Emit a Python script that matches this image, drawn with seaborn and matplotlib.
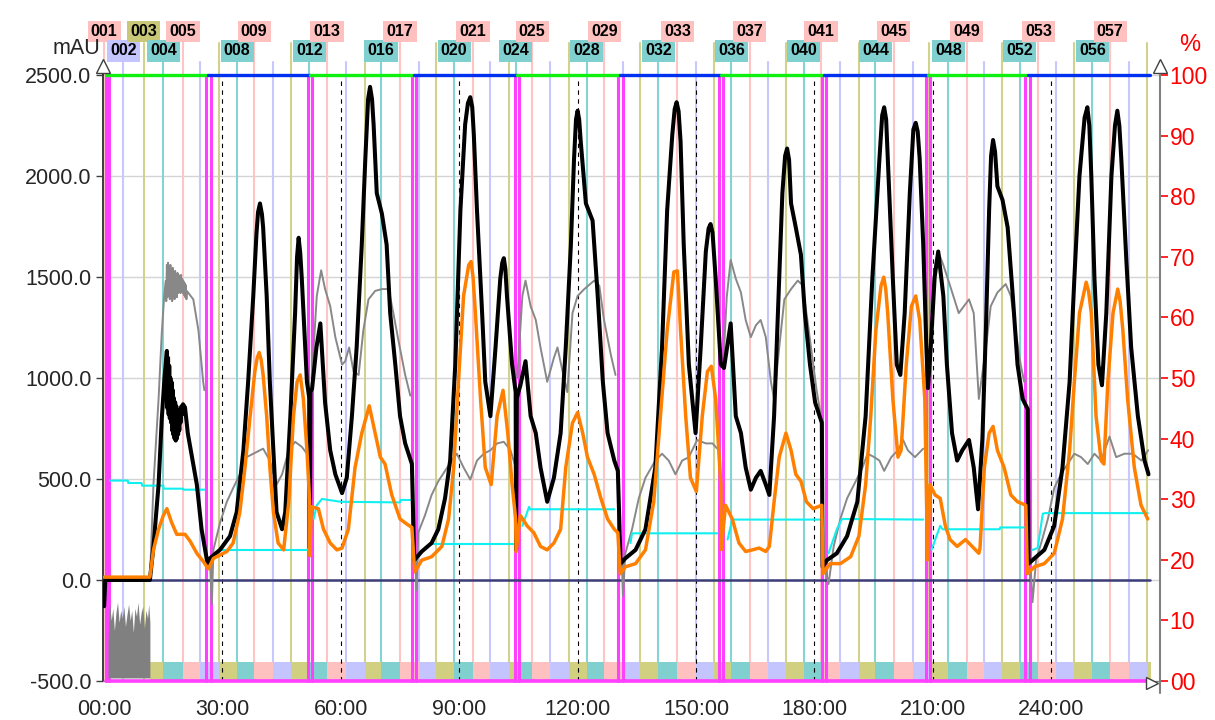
import numpy as np
import pandas as pd
import seaborn as sns
import matplotlib.pyplot as plt
import matplotlib.transforms as mtransforms

# fraction start times (min), fraction 001..059
frac_start = [0.0, 4.9, 10.0, 15.0, 20.0, 24.3, 29.0, 33.7, 38.0, 42.8, 47.4, 52.0, 56.5, 61.3,
              66.0, 70.2, 75.0, 79.8, 84.2, 88.7, 93.5, 97.7, 102.5, 104.3, 108.5, 113.1, 117.9,
              122.3, 126.8, 131.6, 135.9, 140.5, 145.3, 149.9, 154.5, 159.0, 163.6, 168.2, 172.9,
              177.3, 181.7, 186.4, 191.2, 195.5, 200.1, 204.9, 209.0, 214.0, 218.6, 223.1, 227.6,
              232.1, 236.8, 241.2, 245.8, 250.5, 255.0, 259.7, 264.3]
frac_end = 265.3
band_start = 11.7

# injection marks (pairs of magenta lines)
inject_marks = [(0.4, 1.3), (25.8, 27.0), (51.7, 52.6), (78.1, 79.0), (104.1, 105.1),
                (130.3, 131.4), (155.8, 156.9), (181.9, 183.0), (208.2, 209.4), (233.5, 234.7)]
# top 100% line, alternating green / blue between these times
top_breaks = [0.5, 26.3, 52.1, 78.6, 104.6, 130.8, 156.4, 182.4, 208.8, 234.1, 265.2]

black = [(0.0, -130), (0.3, 0), (11.6, 0), (12.5, 166), (13.8, 472), (14.6, 795), (15.3, 1000),
         (15.9, 1134), (16.05, 850), (16.2, 1100), (16.35, 820), (16.5, 1060), (16.65, 800),
         (16.8, 1000), (16.95, 780), (17.1, 980), (17.25, 740), (17.4, 940), (17.55, 720),
         (17.7, 900), (17.85, 700), (18.0, 880), (18.15, 690), (18.3, 860), (18.45, 700),
         (18.6, 840), (18.75, 720), (18.9, 830), (19.05, 740), (19.2, 840), (19.4, 780),
         (19.6, 860), (19.8, 820), (20.0, 870), (20.5, 854), (21.2, 727),
         (23.5, 472), (24.7, 251), (26.2, 81), (26.8, 107), (29.4, 150), (31.9, 217), (33.6, 336),
         (35.3, 642), (36.5, 981), (37.8, 1406), (38.6, 1711), (39.0, 1820), (39.5, 1864),
         (40.0, 1810), (40.3, 1745), (41.2, 1406), (42.0, 981), (42.9, 642), (43.7, 336),
         (45.1, 251), (45.9, 336), (47.2, 811), (48.4, 1321), (48.9, 1600), (49.3, 1694),
         (49.7, 1620), (50.1, 1491), (51.4, 981), (52.0, 900), (52.15, 160),
         (52.3, 930), (52.7, 947), (53.8, 1150), (54.8, 1270), (56.0, 879), (57.3, 642), (58.6, 523),
         (60.3, 430), (61.5, 506), (62.8, 811), (64.0, 1151), (65.3, 1660), (66.2, 2085),
         (66.9, 2380), (67.4, 2441), (67.9, 2380), (68.3, 2255), (69.1, 1915), (70.4, 1813),
         (71.6, 1660), (72.5, 1321),
         (73.8, 1066), (75.0, 811), (76.3, 676), (78.0, 574), (78.6, 98), (80.5, 141), (83.0, 183),
         (84.7, 251), (86.4, 404), (87.7, 591), (89.0, 1066), (90.3, 1830), (91.5, 2255),
         (92.2, 2360), (92.8, 2390), (93.3, 2340), (93.7, 2204), (94.5, 1830), (95.8, 1321),
         (96.6, 981), (97.9, 811), (99.2, 1151), (100.4, 1491), (100.9, 1570), (101.3, 1593),
         (101.7, 1540), (102.1, 1406), (103.4, 1066), (104.3, 930),
         (104.4, 150), (104.6, 900), (105.5, 964), (106.8, 1083), (108.1, 811), (109.4, 727),
         (110.6, 557), (112.3, 387), (114.0, 506), (115.7, 727), (117.0, 1151), (118.3, 1660),
         (119.1, 2085), (119.6, 2280), (120.0, 2323), (120.4, 2280), (120.8, 2170), (122.1, 1864),
         (123.8, 1779), (125.1, 1406),
         (126.4, 981), (127.6, 727), (129.3, 591), (130.2, 540), (130.9, 81), (132.1, 107),
         (134.7, 149), (137.2, 251), (139.7, 557), (141.4, 1151), (142.7, 1830), (144.0, 2204),
         (144.6, 2330), (145.1, 2365), (145.6, 2320), (146.1, 2170), (146.9, 1660), (148.2, 1066),
         (149.9, 727), (151.2, 1151), (152.5, 1626), (153.2, 1740), (153.7, 1762), (154.2, 1720),
         (155.0, 1491), (156.3, 1066), (157.1, 1049), (158.8, 1270),
         (160.1, 811), (161.4, 727), (162.6, 557), (163.9, 447), (165.2, 506), (166.4, 540),
         (167.7, 472), (168.6, 421), (169.8, 811), (171.1, 1491), (171.9, 1915), (172.6, 2100),
         (173.1, 2136), (173.6, 2080), (174.1, 1864), (175.3, 1745), (176.6, 1610), (177.6, 1321),
         (178.9, 1066), (180.2, 879),
         (181.9, 778), (182.1, 65), (183.2, 98), (185.7, 132), (188.3, 217), (190.9, 387),
         (193.0, 811), (194.7, 1491), (196.5, 2085), (197.2, 2300), (197.7, 2340), (198.2, 2280),
         (198.8, 2000), (199.9, 1491), (200.9, 1066), (201.8, 1015), (202.9, 1321), (204.2, 1915),
         (205.1, 2230), (205.7, 2263), (206.2, 2220), (206.7, 2085),
         (207.6, 1660), (208.4, 1151), (208.8, 950), (209.5, 1150), (210.5, 1500), (211.4, 1626),
         (212.7, 1406), (213.6, 1066), (214.9, 727), (216.2, 591), (217.5, 642), (219.2, 693),
         (220.4, 557), (221.5, 350), (222.6, 700), (223.5, 1250), (224.3, 1830), (224.8, 2100),
         (225.3, 2178), (225.8, 2120), (226.4, 1949), (227.7, 1881), (229.0, 1745), (230.3, 1406),
         (231.5, 1066), (232.8, 896),
         (234.1, 845), (234.3, 81), (235.8, 107), (238.3, 149), (240.8, 268), (242.9, 557),
         (244.7, 981), (245.9, 1491), (247.2, 2000), (248.5, 2289), (249.2, 2340), (249.7, 2250),
         (250.2, 2000), (251.0, 1491), (252.0, 1066), (252.9, 964), (254.0, 1321), (255.3, 2000),
         (256.2, 2250), (256.8, 2323), (257.3, 2250),
         (257.8, 2085), (259.1, 1576), (260.3, 1151), (262.0, 811), (263.7, 591), (264.7, 523)]

orange = [(0.0, 14), (11.6, 14), (12.5, 149), (13.8, 251), (15.0, 319), (15.9, 353), (17.1, 285),
          (18.4, 226), (20.5, 226), (21.8, 192), (23.5, 132), (25.2, 90), (26.4, 55), (27.7, 107),
          (29.4, 124), (31.1, 141), (32.7, 183), (34.4, 336), (35.7, 557), (37.0, 811), (38.2, 1032),
          (38.8, 1100), (39.3, 1126), (39.8, 1090), (40.3, 1015), (41.2, 811), (42.0, 557),
          (42.9, 336), (44.1, 183), (45.5, 149),
          (46.8, 387), (48.0, 811), (48.9, 981), (49.7, 1015), (50.5, 896), (51.4, 642), (52.1, 387),
          (52.15, 120), (52.5, 362), (54.3, 353), (55.6, 251), (57.3, 183), (59.0, 149), (60.3, 158),
          (61.9, 251), (63.6, 557), (65.3, 727), (67.2, 862), (68.7, 727), (70.0, 608), (71.2, 574),
          (72.9, 421), (75.0, 302), (76.7, 277), (78.0, 260), (78.7, 39), (80.5, 98), (83.0, 115),
          (85.6, 166), (87.3, 302), (88.6, 557), (89.8, 981), (91.1, 1406), (92.4, 1559), (93.0, 1576),
          (93.5, 1500), (94.1, 1321), (95.4, 896), (96.6, 557), (98.1, 472), (99.6, 811),
          (101.1, 939), (102.3, 727),
          (103.4, 472), (104.3, 302), (104.4, 140), (105.5, 319), (107.2, 268), (108.9, 234),
          (110.6, 166), (112.3, 149), (114.0, 183), (115.7, 251), (117.0, 557), (118.7, 777),
          (120.0, 829), (121.3, 727), (122.5, 608), (124.2, 523), (125.9, 404), (127.6, 302),
          (129.3, 251), (130.2, 234), (130.8, 31), (132.1, 65), (134.7, 81), (137.2, 149),
          (139.3, 387), (141.0, 811), (142.7, 1236), (144.4, 1525), (145.3, 1530), (146.1, 1236),
          (147.4, 811), (148.6, 506), (150.1, 438), (151.6, 811), (152.9, 1032), (153.9, 1058),
          (155.0, 896), (156.3, 472), (156.4, 150), (157.5, 370), (159.2, 302), (160.9, 183),
          (162.6, 141), (164.3, 149), (166.0, 158), (167.7, 141), (168.6, 166), (169.8, 387),
          (171.1, 608), (172.8, 727), (174.1, 642), (175.3, 523), (176.6, 489), (178.0, 387),
          (179.7, 353), (181.9, 370), (182.2, 31), (184.0, 81), (186.6, 81), (189.2, 115),
          (191.3, 217), (193.0, 472), (194.3, 811), (195.6, 1236), (196.9, 1457), (197.6, 1499),
          (198.1, 1440), (198.6, 1321), (199.9, 896), (201.2, 608), (202.0, 642), (203.3, 1066),
          (204.6, 1355), (205.7, 1406), (206.7, 1287), (208.0, 896), (208.7, 100), (209.3, 472),
          (210.6, 421), (211.9, 404), (213.2, 268), (214.4, 200), (216.2, 166), (218.3, 200),
          (220.0, 166), (221.7, 132), (222.0, 160), (223.1, 557), (224.3, 727), (225.3, 760),
          (226.4, 642), (228.1, 557), (229.8, 421), (231.5, 387), (233.6, 370), (234.0, 31),
          (235.8, 65), (238.3, 81), (240.8, 132), (242.9, 302), (244.7, 642), (245.9, 981),
          (247.2, 1321), (248.9, 1474), (249.5, 1430), (250.2, 1321), (251.4, 811), (252.7, 591),
          (253.4, 574), (254.4, 981), (255.7, 1321), (256.9, 1440), (257.5, 1380), (258.2, 1236),
          (259.4, 896), (261.1, 557), (262.8, 370), (264.5, 302)]

# gray trace, one list per segment
gray_segments = [
    [(11.7, 48), (12.5, 472), (13.8, 896), (14.6, 1219), (15.2, 1400), (15.6, 1480), (15.75, 1380),
     (15.9, 1560), (16.05, 1400), (16.2, 1570), (16.35, 1420), (16.5, 1540), (16.65, 1390),
     (16.8, 1560), (16.95, 1410), (17.1, 1530), (17.25, 1380), (17.4, 1545), (17.55, 1400),
     (17.7, 1520), (17.85, 1390), (18.0, 1530), (18.15, 1410), (18.3, 1510), (18.45, 1400),
     (18.6, 1520), (18.75, 1420), (18.9, 1510), (19.05, 1430), (19.2, 1500), (19.35, 1420),
     (19.5, 1510), (19.65, 1430), (19.8, 1490), (19.95, 1420), (20.1, 1480), (20.25, 1410),
     (20.4, 1470), (20.55, 1400), (20.7, 1460), (20.85, 1390), (21.0, 1430),
     (22.6, 1389), (23.9, 1236), (25.1, 981), (25.4, 940)],
    [(26.9, 60), (27.3, -120), (27.7, 150), (29.4, 285), (31.1, 387), (32.7, 455), (34.4, 523),
     (36.1, 608), (37.8, 625), (40.3, 650), (42.0, 591), (43.7, 472), (45.1, 523), (46.8, 642),
     (48.4, 684), (50.1, 659), (51.4, 625)],
    [(52.6, 1000), (53.1, 1151), (53.9, 1406), (55.0, 1533), (56.0, 1440), (57.3, 1355), (58.6, 1202),
     (60.3, 1066), (61.1, 1083), (62.1, 1151), (63.2, 1032), (64.5, 1015), (65.7, 1236), (67.0, 1389),
     (68.7, 1431), (70.4, 1440), (72.1, 1440), (73.3, 1321), (74.6, 1185), (76.3, 1015), (77.6, 913)],
    [(78.9, 100), (79.2, -50), (79.6, 234), (81.3, 319), (83.0, 421), (84.7, 489), (86.4, 540),
     (88.1, 591), (89.4, 625), (91.1, 557), (92.8, 497), (94.5, 591), (96.2, 625), (97.9, 642),
     (99.6, 676), (101.3, 684), (103.0, 642), (104.3, 557)],
    [(104.7, 1000), (106.0, 1406), (106.8, 1482), (108.1, 1355), (109.4, 1287), (110.6, 1151),
     (112.3, 981), (114.0, 1100), (114.9, 1151), (116.2, 1032), (117.4, 930), (118.7, 1321),
     (120.0, 1406), (121.7, 1440), (124.2, 1482), (125.5, 1457), (126.7, 1287), (128.4, 1117),
     (129.6, 1015)],
    [(131.2, 100), (131.5, -80), (132.1, 132), (133.8, 251), (135.5, 404), (137.2, 506), (139.7, 591),
     (141.4, 625), (143.1, 591), (144.8, 523), (146.5, 591), (148.2, 608), (150.3, 693), (152.5, 676),
     (154.2, 676), (155.4, 650)],
    [(157.0, 1100), (157.8, 1400), (158.8, 1584), (160.1, 1491), (161.4, 1423), (162.6, 1287),
     (163.9, 1202), (165.2, 1261), (166.4, 1287), (167.7, 1202), (169.0, 981), (169.8, 896),
     (171.1, 1151), (172.4, 1389), (174.1, 1440), (175.8, 1482), (177.0, 1460), (178.5, 1250),
     (179.5, 1100), (180.5, 950), (181.5, 830)],
    [(182.6, 80), (183.6, -20), (184.9, 166), (186.6, 302), (188.3, 404), (190.5, 489), (192.2, 557),
     (193.5, 625), (195.2, 608), (196.5, 591), (197.7, 540), (199.5, 608), (201.2, 642), (202.5, 693),
     (203.7, 642), (205.5, 608), (207.6, 650)],
    [(209.3, 1321), (210.6, 1559), (211.4, 1626), (212.7, 1559), (214.4, 1457), (216.6, 1321),
     (217.9, 1355), (219.2, 1389), (220.4, 1321), (221.7, 896), (223.5, 1151), (224.7, 1355),
     (226.4, 1423), (228.5, 1465), (229.8, 1406), (231.0, 1236), (232.3, 1066), (233.2, 981)],
    [(234.9, 30), (235.3, -110), (236.2, 98), (237.5, 183), (239.2, 302), (240.8, 455), (242.5, 523),
     (244.2, 574), (245.9, 625), (247.6, 608), (249.3, 574), (251.0, 625), (252.7, 591), (254.8, 710),
     (256.5, 608), (258.6, 625), (260.7, 625), (262.9, 591), (264.6, 642)],
]

# noisy gray block at the start (top edge of the noise)
gray_noise = [(1.0, -300), (1.4, -120), (1.8, -200), (2.2, -140), (2.6, -250), (3.0, -160),
              (3.4, -110), (3.8, -210), (4.2, -150), (4.6, -190), (5.0, -130), (5.4, -230),
              (5.8, -170), (6.2, -120), (6.6, -200), (7.0, -150), (7.4, -260), (7.8, -140),
              (8.2, -180), (8.6, -110), (9.0, -220), (9.4, -160), (9.8, -130), (10.2, -240),
              (10.6, -150), (11.0, -190), (11.3, -120), (11.6, -210)]

cyan_segments = [
    [(1.5, 492), (6.0, 492), (6.1, 480), (9.5, 480), (9.6, 467), (15.0, 467), (15.1, 452),
     (20.0, 452), (20.1, 447), (25.5, 447)],
    [(29.5, 146), (51.4, 146)],
    [(53.1, 302), (53.9, 370), (55.2, 401), (60.0, 387), (75.0, 384), (75.1, 396), (77.6, 396)],
    [(82.7, 180), (103.9, 180)],
    [(106.0, 268), (107.7, 362), (108.0, 350), (129.3, 350)],
    [(133.4, 183), (133.8, 231), (155.4, 231)],
    [(158.0, 200), (159.2, 299), (181.5, 299)],
    [(183.6, 132), (185.7, 251), (187.0, 302), (207.6, 299)],
    [(209.7, 149), (211.9, 268), (212.5, 251), (227.0, 251), (227.1, 260), (233.2, 260)],
    [(235.3, 149), (236.6, 158), (237.9, 328), (238.5, 331), (264.5, 331)],
]

x_ticks = [0, 30, 60, 90, 120, 150, 180, 210, 240]
y_ticks = [-500, 0, 500, 1000, 1500, 2000, 2500]
pct_ticks = [0, 10, 20, 30, 40, 50, 60, 70, 80, 90, 100]

line_cols = ["#FFC4C4", "#C8C8FF", "#D2D28C", "#84D4D4"]
box_cols = ["#FFC0C0", "#C4C4FF", "#C8C878", "#80D0D0"]

sns.set_style("white")
plt.rcParams["font.family"] = ["Liberation Sans", "DejaVu Sans"]
plt.rcParams["axes.unicode_minus"] = False

fig = plt.figure(figsize=(12.15, 7.2), dpi=100)
ax = fig.add_axes([0.0845, 0.0542, 0.8702, 0.8417])
ax.set_xlim(-0.37, 267.6)
ax.set_ylim(-500, 2500)

trans = mtransforms.blended_transform_factory(ax.transData, ax.transAxes)

# horizontal grid
for v in y_ticks:
    ax.axhline(v, color="#D4D4D4", lw=1, zorder=0.5)

# fraction lines + labels
for i, t in enumerate(frac_start):
    n = i + 1
    k = i % 4
    top = {0: 1.055, 1: 1.022, 2: 1.052, 3: 1.025}[k]
    ax.plot([t, t], [0, top], transform=trans, color=line_cols[k], lw=1.5,
            clip_on=False, zorder=1)
    if k in (0, 3) or n <= 3:
        row = 1.0715 if k in (0, 2) else 1.0396
        ax.text(t, row, f"{n:03d}", transform=trans, ha="center", va="center",
                fontsize=11.5, fontweight="bold", color="black", clip_on=False,
                bbox=dict(boxstyle="square,pad=0.2", fc=box_cols[k], ec="none"))

# bottom fraction band
bounds = frac_start + [frac_end]
for i in range(2, len(frac_start)):
    x0 = max(bounds[i], band_start)
    ax.bar(x0, 95, width=bounds[i + 1] - x0, bottom=-500, align="edge",
           color=box_cols[i % 4] if i % 4 != 2 else "#D0D080", lw=0, zorder=2)

# dashed x grid
for m in x_ticks[1:]:
    ax.axvline(m, color="black", lw=0.8, ls=(0, (4, 4)), zorder=2.5)

# injection marks
for a, b in inject_marks:
    for x in (a, b):
        ax.plot([x, x], [-500, 2500], color="#FF40FF", lw=2.2, zorder=3, clip_on=False)

# top line
for j in range(len(top_breaks) - 1):
    ax.plot([top_breaks[j], top_breaks[j + 1]], [2500, 2500],
            color="#10F010" if j % 2 == 0 else "#0030F0", lw=2.4, zorder=3.5, clip_on=False)

# zero baseline and bottom magenta line
ax.plot([band_start, 265.2], [0, 0], color="#3C3C78", lw=1.8, zorder=3)
ax.plot([0.4, 265.3], [-500, -500], color="#FF40FF", lw=2.6, zorder=6, clip_on=False)

# gray trace
nt, nv = zip(*gray_noise)
ax.fill_between(nt, -485, nv, color="#808080", lw=0, zorder=4)
for seg in gray_segments:
    gt, gv = zip(*seg)
    ax.plot(gt, gv, color="#888888", lw=1.4, zorder=4)

for seg in cyan_segments:
    ct, cv = zip(*seg)
    ax.plot(ct, cv, color="#10F0F0", lw=1.5, zorder=4.5)

df_black = pd.DataFrame(black, columns=["min", "mAU"])
df_orange = pd.DataFrame(orange, columns=["min", "mAU"])
sns.lineplot(data=df_black, x="min", y="mAU", sort=False, estimator=None, color="black",
             lw=2.9, ax=ax, zorder=5, legend=False)
sns.lineplot(data=df_orange, x="min", y="mAU", sort=False, estimator=None, color="#FF8000",
             lw=2.5, ax=ax, zorder=5.5, legend=False)

ax.set_xlabel("")
ax.set_ylabel("")
ax.set_xticks(x_ticks)
ax.set_xticklabels([f"{m:02d}:00" for m in x_ticks])
ax.set_yticks(y_ticks)
ax.set_yticklabels([f"{v:.1f}" for v in y_ticks])
ax.tick_params(axis="x", length=11, width=1, color="#606060", labelsize=15.5, pad=2)
ax.tick_params(axis="y", length=5, width=1, color="#404040", labelsize=15.5, pad=3)
for s in ("top", "right"):
    ax.spines[s].set_visible(False)
ax.spines["left"].set_color("#303030")
ax.spines["left"].set_linewidth(1.3)
ax.spines["bottom"].set_color("#808080")

ax2 = ax.twinx()
ax2.set_ylim(0, 100)
ax2.set_yticks(pct_ticks)
ax2.set_yticklabels([f"{v:02d}" for v in pct_ticks])
ax2.tick_params(axis="y", length=6, width=1.2, colors="#FF0000", labelsize=16.5, pad=1)
for s in ("top", "left", "bottom"):
    ax2.spines[s].set_visible(False)
ax2.spines["right"].set_color("#808080")
ax2.spines["right"].set_linewidth(1.5)

# axis arrows
ax.plot([0, 0], [1.0, 1.015], transform=ax.transAxes, color="#303030", lw=1.3, clip_on=False)
ax.plot([1, 1], [1.0, 1.015], transform=ax.transAxes, color="#808080", lw=1.5, clip_on=False)
ax.plot([1, 1], [0, -0.02], transform=ax.transAxes, color="#808080", lw=1.5, clip_on=False)
ax.plot([0], [1.015], transform=ax.transAxes, marker="^", ms=10, mfc="white", mec="#404040",
        mew=1, clip_on=False, zorder=10)
ax.plot([1], [1.015], transform=ax.transAxes, marker="^", ms=10, mfc="white", mec="#404040",
        mew=1, clip_on=False, zorder=10)
ax.plot([0.992], [-0.004], transform=ax.transAxes, marker=">", ms=9, mfc="white", mec="#404040",
        mew=1, clip_on=False, zorder=10)

fig.text(0.0625, 0.933, "mAU", ha="center", va="center", fontsize=15.5)
fig.text(0.979, 0.937, "%", ha="center", va="center", fontsize=17, color="#FF0000")

fig.savefig("out.png", dpi=100)
